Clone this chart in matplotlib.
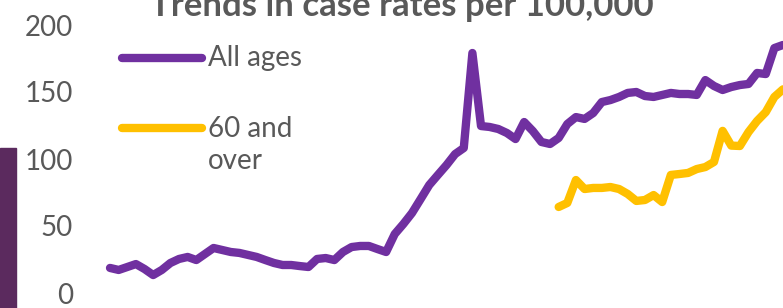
import matplotlib
matplotlib.use("Agg")
import matplotlib.pyplot as plt
from matplotlib.lines import Line2D
from matplotlib.patches import Rectangle

# Weekly case rates per 100,000
all_ages = [18.7, 17.2, 19.4, 21.6, 17.9, 13.4, 17.2, 22.4, 25.4, 26.9,
            24.6, 29.1, 33.6, 32.1, 30.6, 29.9, 28.4, 26.9, 24.6, 22.4,
            20.9, 20.9, 20.1, 19.4, 25.4, 26.1, 24.6, 30.6, 34.3, 35.1,
            35.1, 32.8, 30.6, 44.0, 51.5, 59.7, 70.1, 80.6, 88.1, 95.5,
            103.7, 108.2, 179.1, 124.6, 123.9, 122.4, 119.4, 114.9, 127.6, 120.9,
            112.7, 111.2, 115.7, 126.1, 131.3, 129.9, 134.3, 142.5, 144.0, 146.3,
            149.3, 150.0, 147.0, 146.3, 147.8, 149.3, 148.5, 148.5, 147.8, 158.9,
            154.5, 151.5, 153.7, 155.2, 156.0, 164.2, 163.4, 182.8, 185.1]
over_60 = [64.2, 67.2, 84.3, 77.6, 78.4, 78.4, 79.1, 77.6, 73.9, 68.7,
           69.4, 73.1, 67.9, 88.1, 88.8, 89.6, 92.5, 94.0, 97.8, 121.0,
           110.0, 109.7, 120.1, 128.4, 135.0, 146.3, 152.0]
over_60_start = 52

weeks = list(range(len(all_ages)))
weeks_60 = weeks[over_60_start:]

purple = "#7030A0"
yellow = "#FFC000"
grey = "#595959"

plt.rcParams["font.family"] = ["Lato", "DejaVu Sans"]

fig = plt.figure(figsize=(7.83, 3.08), dpi=100)
ax = fig.add_axes([85 / 783, 15 / 308, 698 / 783, 268 / 308])

ax.plot(weeks, all_ages, color=purple, lw=6, solid_capstyle="round",
        solid_joinstyle="round")
ax.plot(weeks_60, over_60, color=yellow, lw=6, solid_capstyle="round",
        solid_joinstyle="round")

ax.set_ylim(0, 200)
ax.set_xlim(-2.9, 78)
ax.set_yticks([0, 50, 100, 150, 200])
ax.set_xticks([])
ax.tick_params(axis="y", length=0, pad=8.5, labelsize=20, labelcolor=grey)
for s in ax.spines.values():
    s.set_visible(False)

# title (cut off at the top in the original)
fig.text(402 / 783, 1 - 16 / 308, "Trends in case rates per 100,000",
         ha="center", va="baseline", fontsize=25, fontweight="bold", color=grey)

# legend drawn inside the plot on the left
fig.add_artist(Line2D([122 / 783, 202 / 783], [1 - 58 / 308] * 2, color=purple,
                      lw=6, solid_capstyle="round"))
fig.text(208 / 783, 1 - 58 / 308, "All ages", ha="left", va="center",
         fontsize=20, color=grey)
fig.add_artist(Line2D([122 / 783, 202 / 783], [1 - 128 / 308] * 2, color=yellow,
                      lw=6, solid_capstyle="round"))
fig.text(208 / 783, 1 - 116 / 308, "60 and\nover", ha="left", va="top",
         fontsize=20, color=grey, linespacing=1.3)

# dark purple strip at the left edge
fig.add_artist(Rectangle((0, 0), 16 / 783, 160 / 308, transform=fig.transFigure,
                         color="#5B2A5E"))

fig.savefig("out.png", dpi=100)
